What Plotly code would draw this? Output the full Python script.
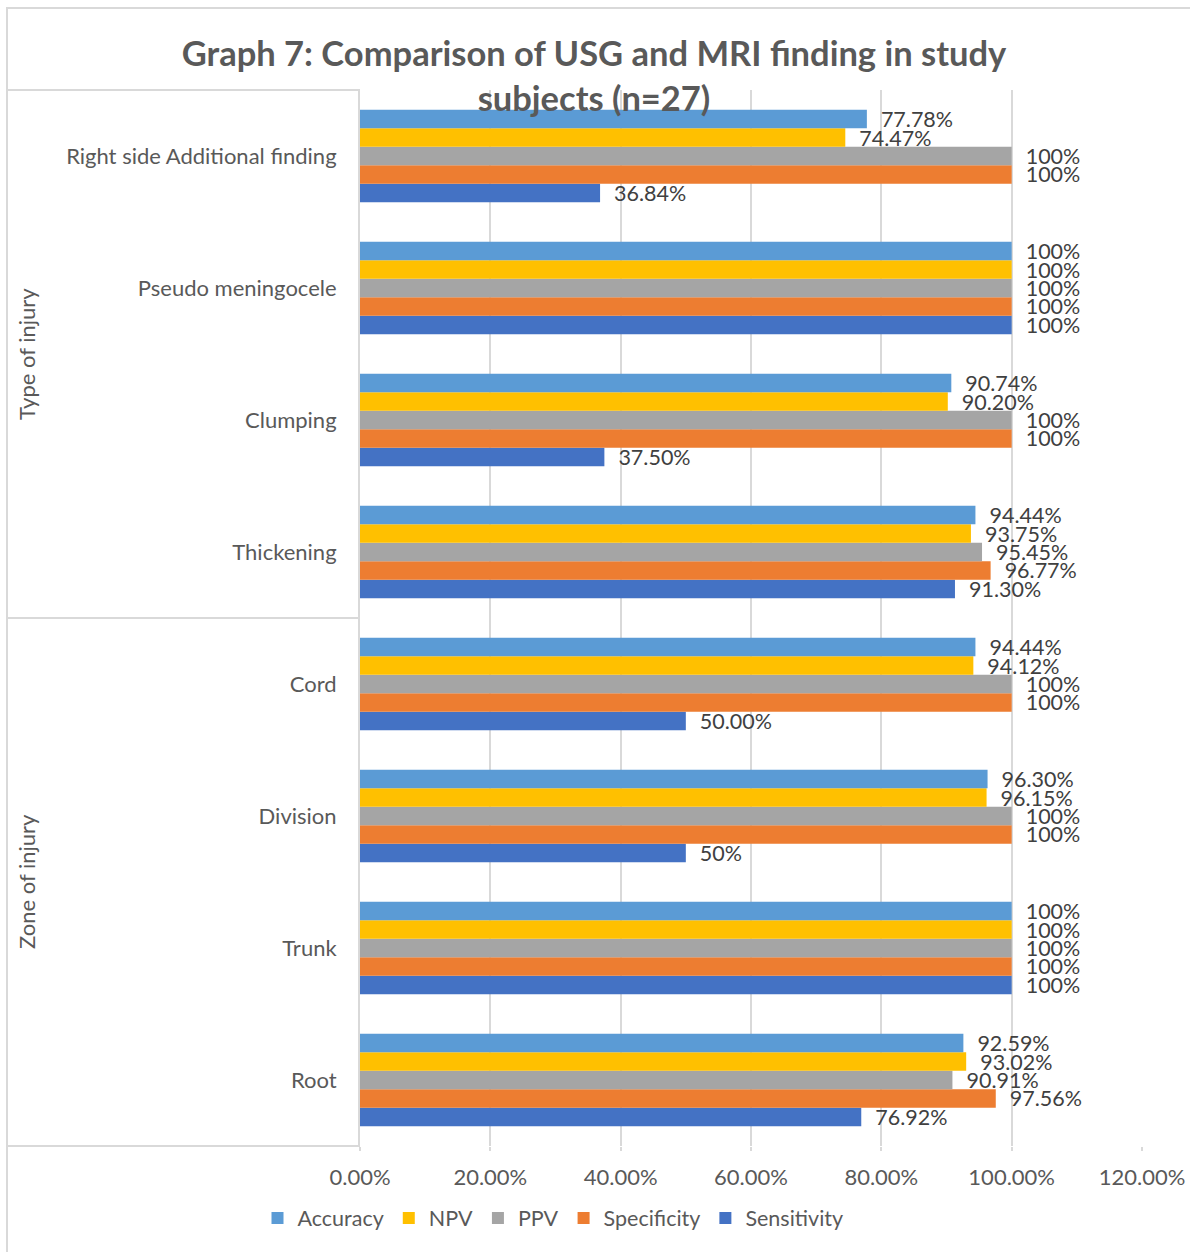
import plotly.graph_objects as go

categories = ["Root", "Trunk", "Division", "Cord", "Thickening", "Clumping",
              "Pseudo meningocele", "Right side Additional finding"]

# values (fractions), bottom-to-top category order
sensitivity = [0.7692, 1.00, 0.50, 0.50, 0.9130, 0.3750, 1.00, 0.3684]
specificity = [0.9756, 1.00, 1.00, 1.00, 0.9677, 1.00, 1.00, 1.00]
ppv         = [0.9091, 1.00, 1.00, 1.00, 0.9545, 1.00, 1.00, 1.00]
npv         = [0.9302, 1.00, 0.9615, 0.9412, 0.9375, 0.9020, 1.00, 0.7447]
accuracy    = [0.9259, 1.00, 0.9630, 0.9444, 0.9444, 0.9074, 1.00, 0.7778]

sensitivity_labels = ["76.92%", "100%", "50%", "50.00%", "91.30%", "37.50%", "100%", "36.84%"]
specificity_labels = ["97.56%", "100%", "100%", "100%", "96.77%", "100%", "100%", "100%"]
ppv_labels         = ["90.91%", "100%", "100%", "100%", "95.45%", "100%", "100%", "100%"]
npv_labels         = ["93.02%", "100%", "96.15%", "94.12%", "93.75%", "90.20%", "100%", "74.47%"]
accuracy_labels    = ["92.59%", "100%", "96.30%", "94.44%", "94.44%", "90.74%", "100%", "77.78%"]

x_ticks = [0, 0.2, 0.4, 0.6, 0.8, 1.0, 1.2]

series = [
    ("Sensitivity", sensitivity, sensitivity_labels, "#4472C4"),
    ("Specificity", specificity, specificity_labels, "#ED7D31"),
    ("PPV", ppv, ppv_labels, "#A5A5A5"),
    ("NPV", npv, npv_labels, "#FFC000"),
    ("Accuracy", accuracy, accuracy_labels, "#5B9BD5"),
]

FONT = "Lato, Carlito, Calibri, sans-serif"
pad = "\u00a0\u00a0"

fig = go.Figure()
for name, vals, labels, color in series:
    fig.add_trace(go.Bar(
        name=name, y=categories, x=vals, orientation="h",
        marker=dict(color=color, line=dict(width=0)),
        text=[pad + t for t in labels], textposition="outside",
        textfont=dict(family=FONT, size=21.5, color="#404040"),
        constraintext="none", cliponaxis=False,
    ))

def px_x(px):
    return (px - 360) / 782.0

def px_y(py):
    return (1146 - py) / 1056.0

line_col = "#D9D9D9"
shapes = [
    dict(type="rect", xref="paper", yref="paper", x0=px_x(7), x1=px_x(1210),
         y0=px_y(1270), y1=px_y(8), line=dict(color=line_col, width=2), layer="below"),
]
for py in (90, 618, 1146):
    shapes.append(dict(type="line", xref="paper", yref="paper", x0=px_x(7), x1=0,
                       y0=px_y(py), y1=px_y(py), line=dict(color=line_col, width=2)))

annotations = [
    dict(text="Type of injury", xref="paper", yref="paper", x=px_x(26), y=0.75,
         xanchor="center", yanchor="middle",
         textangle=-90, showarrow=False, font=dict(family=FONT, size=22, color="#595959")),
    dict(text="Zone of injury", xref="paper", yref="paper", x=px_x(26), y=0.25,
         xanchor="center", yanchor="middle",
         textangle=-90, showarrow=False, font=dict(family=FONT, size=22, color="#595959")),
]

fig.update_layout(
    width=1190, height=1252,
    margin=dict(l=360, r=48, t=90, b=106, autoexpand=False),
    paper_bgcolor="white", plot_bgcolor="white",
    barmode="group", bargap=0.30, bargroupgap=0,
    title=dict(text="<b>Graph 7: Comparison of USG and MRI finding in study<br>subjects (n=27)</b>",
               x=594 / 1190, xanchor="center", y=1 - 66 / 1252, yanchor="middle",
               font=dict(family=FONT, size=34.5, color="#595959")),
    xaxis=dict(range=[0, 1.2], tickvals=x_ticks, tickformat=".2%",
               showgrid=True, gridcolor=line_col, gridwidth=2,
               zeroline=False, showline=False, automargin=False,
               ticks="outside", ticklen=4, tickcolor=line_col, tickwidth=2,
               ticklabelstandoff=8,
               tickfont=dict(family=FONT, size=22, color="#595959")),
    yaxis=dict(categoryorder="array", categoryarray=categories,
               showline=True, linecolor=line_col, linewidth=2, automargin=False,
               showgrid=False, zeroline=False, ticklabelstandoff=17,
               tickfont=dict(family=FONT, size=22, color="#595959")),
    legend=dict(orientation="h", traceorder="reversed",
                xref="container", yref="container",
                x=553 / 1190, xanchor="center", y=1 - 1218 / 1252, yanchor="middle",
                font=dict(family=FONT, size=21.5, color="#595959"),
                itemwidth=30, tracegroupgap=0),
    shapes=shapes, annotations=annotations,
    showlegend=True,
)

fig.write_html("out.html")
